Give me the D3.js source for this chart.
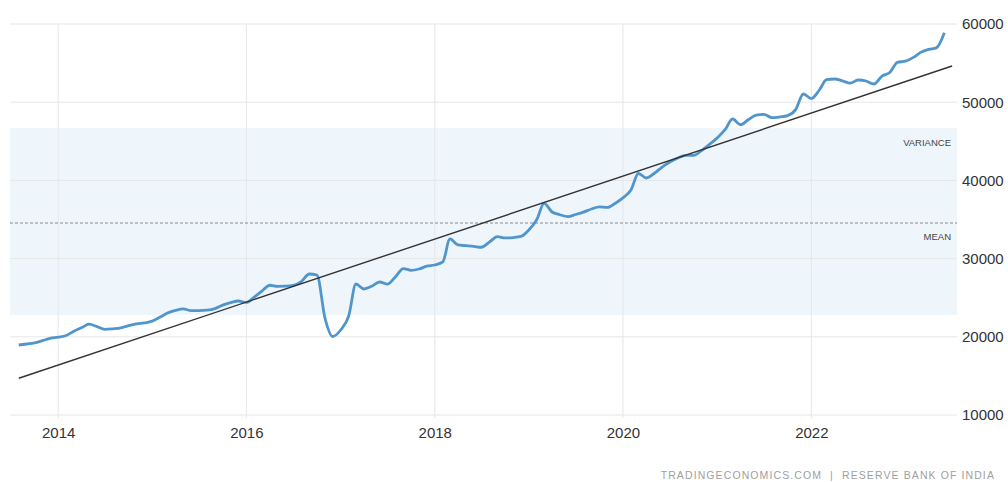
<!DOCTYPE html>
<html>
<head>
<meta charset="utf-8">
<script src="https://cdn.jsdelivr.net/npm/d3@7"></script>
<style>
  body { margin: 0; background: #fff; }
  svg text { font-family: "Liberation Sans", Arial, sans-serif; }
</style>
</head>
<body>
<div id="container"></div>
<script>
/* CONSTANTS AND GLOBALS */
const width = 1008,
  height = 482,
  plotLeft = 10,
  plotRight = 957,
  plotTop = 24,
  plotBottom = 415;

/* DATA (monthly from Aug 2013) */
const startMonth = "2013-08";
const values = [
  18950, 19080, 19220, 19510, 19810, 19960, 20170, 20680, 21150, 21610, 21300, 20960,
  21020, 21130, 21420, 21650, 21770, 22000, 22530, 23040, 23390, 23580, 23340, 23340,
  23400, 23610, 24050, 24370, 24580, 24390, 25090, 25830, 26590, 26460, 26470, 26570,
  27060, 28030, 27900, 22400, 20040, 20870, 22660, 26750, 26110, 26460, 27010, 26730,
  27650, 28730, 28500, 28670, 29030, 29180, 29570, 32510, 31740, 31650, 31560, 31450,
  32120, 32800, 32640, 32690, 32830, 33670, 35000, 37070, 35960, 35610, 35370, 35640,
  35950, 36340, 36620, 36540, 37050, 37760, 38760, 40880, 40310, 40880, 41710, 42350,
  42870, 43200, 43200, 43800, 44580, 45440, 46510, 47850, 47120, 47760, 48360, 48440,
  48020, 48120, 48290, 49050, 51050, 50470, 51560, 52880, 52970, 52740, 52430, 52840,
  52710, 52330, 53310, 53790, 55100, 55240, 55730, 56370, 56750, 56950, 58880
];
const trendDates = ["2013-08", "2023-07"];
const trendValues = [14700, 54630];
const meanValue = 34550;
const varianceBand = [22800, 46700];
const yTicks = [10000, 20000, 30000, 40000, 50000, 60000];
const xTicks = ["2014", "2016", "2018", "2020", "2022"];
const bandLabels = ["VARIANCE", "MEAN"];
const source = "TRADINGECONOMICS.COM  |  RESERVE BANK OF INDIA";

const parseMonth = d3.timeParse("%Y-%m");
const parseYear = d3.timeParse("%Y");
const start = parseMonth(startMonth);
const data = values.map((v, i) => ({ date: d3.timeMonth.offset(start, i), value: v }));
const trend = trendDates.map((d, i) => ({ date: parseMonth(d), value: trendValues[i] }));

const svg = d3.select("#container")
  .append("svg")
  .attr("width", width)
  .attr("height", height)
  .style("background-color", "#ffffff");

/* SCALES */
const xScale = d3.scaleTime()
  .domain([new Date(2013, 5, 28), new Date(2023, 6, 20)])
  .range([plotLeft, plotRight]);

const yScale = d3.scaleLinear()
  .domain([10000, 60000])
  .range([plotBottom, plotTop]);

// variance band
svg.append("rect")
  .attr("x", plotLeft)
  .attr("y", yScale(varianceBand[1]))
  .attr("width", plotRight - plotLeft)
  .attr("height", yScale(varianceBand[0]) - yScale(varianceBand[1]))
  .attr("fill", "#eef6fc");

// horizontal grid
svg.append("g")
  .selectAll("line")
  .data(yTicks)
  .join("line")
  .attr("x1", plotLeft)
  .attr("x2", plotRight)
  .attr("y1", d => yScale(d))
  .attr("y2", d => yScale(d))
  .attr("stroke", "#e6e6e6")
  .attr("stroke-width", 1);

// vertical grid
svg.append("g")
  .selectAll("line")
  .data(xTicks)
  .join("line")
  .attr("x1", d => xScale(parseYear(d)))
  .attr("x2", d => xScale(parseYear(d)))
  .attr("y1", plotTop)
  .attr("y2", plotBottom + 3)
  .attr("stroke", "#e6e6e6")
  .attr("stroke-width", 1);

// mean line
svg.append("line")
  .attr("x1", plotLeft)
  .attr("x2", plotRight)
  .attr("y1", yScale(meanValue))
  .attr("y2", yScale(meanValue))
  .attr("stroke", "#8a8a8a")
  .attr("stroke-width", 1)
  .attr("stroke-dasharray", "3,2");

// band labels
svg.append("text")
  .attr("x", plotRight - 6)
  .attr("y", yScale(varianceBand[1]) + 18)
  .attr("text-anchor", "end")
  .attr("font-size", 9.5)
  .attr("fill", "#444")
  .text(bandLabels[0]);

svg.append("text")
  .attr("x", plotRight - 6)
  .attr("y", yScale(meanValue) + 17)
  .attr("text-anchor", "end")
  .attr("font-size", 9.5)
  .attr("fill", "#444")
  .text(bandLabels[1]);

/* AXES */
const yAxis = svg.append("g")
  .attr("transform", `translate(${plotRight},0)`)
  .call(d3.axisRight(yScale).tickValues(yTicks).tickSize(0).tickPadding(5).tickFormat(d3.format("d")));
yAxis.select(".domain").remove();
yAxis.selectAll("text")
  .attr("font-size", 15)
  .attr("font-family", "Liberation Sans, Arial, sans-serif")
  .attr("fill", "#333");

const xAxis = svg.append("g")
  .attr("transform", `translate(0,${plotBottom})`)
  .call(d3.axisBottom(xScale)
    .tickValues(xTicks.map(d => parseYear(d)))
    .tickSize(0)
    .tickPadding(12)
    .tickFormat(d3.timeFormat("%Y")));
xAxis.select(".domain").remove();
xAxis.selectAll("text")
  .attr("font-size", 15)
  .attr("font-family", "Liberation Sans, Arial, sans-serif")
  .attr("fill", "#333");

/* LINES */
const line = d3.line()
  .x(d => xScale(d.date))
  .y(d => yScale(d.value))
  .curve(d3.curveMonotoneX);

svg.append("path")
  .datum(data)
  .attr("fill", "none")
  .attr("stroke", "#5095cc")
  .attr("stroke-width", 2.8)
  .attr("stroke-linejoin", "round")
  .attr("d", line);

svg.append("path")
  .datum(trend)
  .attr("fill", "none")
  .attr("stroke", "#333")
  .attr("stroke-width", 1.4)
  .attr("d", d3.line().x(d => xScale(d.date)).y(d => yScale(d.value)));

// source
svg.append("text")
  .attr("x", 995)
  .attr("y", 479)
  .attr("text-anchor", "end")
  .attr("font-size", 10.5)
  .attr("letter-spacing", 1.1)
  .attr("fill", "#a0a0a0")
  .style("white-space", "pre")
  .text(source);
</script>
</body>
</html>
